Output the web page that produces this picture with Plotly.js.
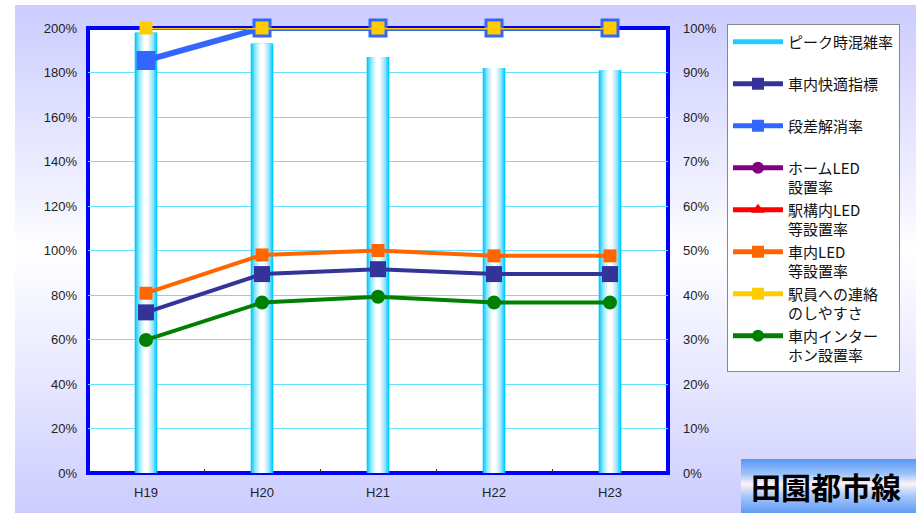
<!DOCTYPE html>
<html>
<head>
<meta charset="utf-8">
<script src="https://cdn.plot.ly/plotly-3.0.1.min.js"></script>
<style>
  html, body { margin: 0; padding: 0; background: #ffffff; }
  #bg { position: absolute; left: 15px; top: 5px; width: 901px; height: 508px;
        background: linear-gradient(to bottom, #ccccff 0%, #f4f4ff 40%, #ffffff 48%, #e6e6ff 75%, #ccccff 100%); }
  #tag { position: absolute; left: 741px; top: 459px; width: 175px; height: 54px;
         background: linear-gradient(to bottom, #5a96f6 0%, #9cc4fa 28%, #fff2f6 46%, #a8c8fa 68%, #5e9af6 100%); }
  #chart { position: absolute; left: 0; top: 0; width: 916px; height: 513px; }
</style>
</head>
<body>
<div id="bg"></div>
<div id="tag"></div>
<div id="chart"></div>
<script>
// ---- data ----
const years = ["H19", "H20", "H21", "H22", "H23"];
const peakCongestion = [198, 193, 187, 182, 181];          // left axis (%)
const comfortIndex   = [36.1, 44.7, 45.8, 44.7, 44.7];     // right axis (%)
const stepFreeRate   = [92.7, 100, 100, 100, 100];
const platformLED    = [null, null, null, null, null];
const stationLED     = [null, null, null, 100, 100];
const carLED         = [40.4, 49.0, 50.0, 48.8, 48.8];
const staffContact   = [100, 100, 100, 100, 100];
const intercomRate   = [29.9, 38.3, 39.6, 38.3, 38.3];
const leftTicks  = [0, 20, 40, 60, 80, 100, 120, 140, 160, 180, 200];
const rightTicks = [0, 10, 20, 30, 40, 50, 60, 70, 80, 90, 100];

const jp = '"Noto Sans CJK JP", "Noto Sans", sans-serif';

// bar built from overlaid layers to imitate the cylinder gradient
const barLayers = [
  {w: 0.195, c: '#00ccff'},
  {w: 0.165, c: '#55d8ff'},
  {w: 0.13,  c: '#9be8ff'},
  {w: 0.09,  c: '#d2f4ff'},
  {w: 0.045, c: '#ffffff'}
];
const traces = [];
barLayers.forEach(function (L) {
  traces.push({
    type: 'bar', x: years, y: peakCongestion, width: L.w,
    marker: {color: L.c, line: {width: 0}},
    showlegend: false, hoverinfo: 'skip', xaxis: 'x', yaxis: 'y'
  });
});
// legend entry for the bars (no drawn points)
traces.push({
  type: 'scatter', mode: 'lines', x: [years[0]], y: [null], name: 'ピーク時混雑率<br> ',
  line: {color: '#22ccff', width: 7}, yaxis: 'y', legendrank: 1, showlegend: true
});

function lineTrace(name, vals, color, width, symbol, size, rank) {
  return {
    type: 'scatter', mode: 'lines+markers', x: years, y: vals, name: name,
    line: {color: color, width: width},
    marker: {color: color, symbol: symbol, size: size},
    yaxis: 'y2', cliponaxis: false, legendrank: rank, connectgaps: false
  };
}
traces.push(lineTrace('車内快適指標<br> ', comfortIndex, '#333399', 4, 'square', 16, 2));
traces.push(lineTrace('段差解消率<br> ', stepFreeRate, '#3366ff', 6, 'square', 19, 3));
traces.push(lineTrace('ホームLED<br>設置率', platformLED, '#800080', 4, 'circle', 12, 4));
traces.push(lineTrace('駅構内LED<br>等設置率', stationLED, '#ff0000', 4, 'triangle-up', 12, 5));
traces.push(lineTrace('車内LED<br>等設置率', carLED, '#ff6600', 4, 'square', 13, 6));
traces.push(lineTrace('駅員への連絡<br>のしやすさ', staffContact, '#ffcc00', 3, 'square', 13, 7));
traces.push(lineTrace('車内インター<br>ホン設置率', intercomRate, '#008000', 4, 'circle', 14, 8));

const layout = {
  width: 916, height: 513,
  margin: {l: 88, r: 248, t: 28, b: 40},
  paper_bgcolor: 'rgba(0,0,0,0)',
  plot_bgcolor: '#ffffff',
  barmode: 'overlay',
  font: {family: '"Liberation Sans", Arial, sans-serif', size: 13, color: '#222222'},
  xaxis: {
    type: 'category', categoryarray: years, range: [-0.5, 4.5],
    showgrid: false, zeroline: false, showline: false,
    ticks: 'inside', tickson: 'boundaries', ticklen: 4, tickcolor: '#333',
    tickfont: {size: 13, color: '#222'}, ticklabelstandoff: 10
  },
  yaxis: {
    range: [0, 200], tickvals: leftTicks, ticktext: leftTicks.map(v => v + '%'),
    showgrid: true, gridcolor: '#66e0ff', gridwidth: 1,
    zeroline: false, showline: false, ticks: '',
    ticklabelstandoff: 10, tickfont: {size: 13, color: '#222'}
  },
  yaxis2: {
    range: [0, 100], tickvals: rightTicks, ticktext: rightTicks.map(v => v + '%'),
    overlaying: 'y', side: 'right', showgrid: false, zeroline: false,
    showline: false, ticks: '', ticklabelstandoff: 14,
    tickfont: {size: 13, color: '#222'}
  },
  legend: {
    x: 1.1017, y: 1.008, xanchor: 'left', yanchor: 'top',
    bgcolor: '#ffffff', bordercolor: '#888888', borderwidth: 1,
    font: {family: jp, size: 15, color: '#111'},
    valign: 'top', itemwidth: 50, tracegroupgap: 0, itemsizing: 'constant',
    traceorder: 'normal', maxheight: 1000
  },
  shapes: [{
    type: 'rect', xref: 'paper', yref: 'paper', x0: 0, x1: 1, y0: 0, y1: 1,
    line: {color: '#0000ff', width: 4}, layer: 'below'
  }],
  annotations: [{
    text: '<b>田園都市線</b>', xref: 'paper', yref: 'paper',
    x: (826 - 88) / 580, y: (473 - 486) / 445, xanchor: 'center', yanchor: 'middle',
    showarrow: false, font: {family: jp, size: 30, color: '#000000'}
  }]
};

Plotly.newPlot('chart', traces, layout, {displayModeBar: false, staticPlot: true});
</script>
</body>
</html>
